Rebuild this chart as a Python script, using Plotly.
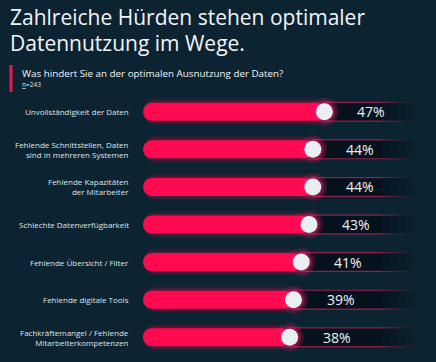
import plotly.graph_objects as go

categories = [
    "Unvollständigkeit der Daten",
    "Fehlende Schnittstellen, Daten<br>sind in mehreren Systemen",
    "Fehlende Kapazitäten<br>der Mitarbeiter",
    "Schlechte Datenverfügbarkeit",
    "Fehlende Übersicht / Filter",
    "Fehlende digitale Tools",
    "Fachkräftemangel / Fehlende<br>Mitarbeiterkompetenzen",
]
values = [47, 44, 44, 43, 41, 39, 38]
value_labels = ["47%", "44%", "44%", "43%", "41%", "39%", "38%"]
fade_stops = [62, 64, 66, 68, 70]

W, H = 436, 362
L, R, T, B = 143, 0, 93, 6
PW, PH = W - L - R, H - T - B
BG = "#0c2332"
PINK = "#ff0a50"
FONT = "Open Sans"


def px_x(px):
    return (px - L) / PW


def px_y(py):
    return 1 - (py - T) / PH


ys = list(range(len(categories)))
fig = go.Figure()

# glow behind pink bars
for w, a in [(0.72, 0.10), (0.6, 0.18)]:
    fig.add_trace(go.Bar(x=values, y=ys, base=0, orientation="h", width=w,
                         marker=dict(color=f"rgba(255,10,80,{a})", cornerradius="50%", line=dict(width=0))))

# dark tracks with fading tail
seg_edges = [[v] + fade_stops for v in values]
n_seg = len(fade_stops)
alphas = [0.75, 0.6, 0.45, 0.3, 0.15]
for s in range(n_seg):
    b = [e[s] for e in seg_edges]
    x = [e[s + 1] - e[s] for e in seg_edges]
    fig.add_trace(go.Bar(x=x, y=ys, base=b, orientation="h", width=0.5,
                         marker=dict(color=f"rgba(3,14,24,{alphas[s]})", line=dict(width=0))))

# pink bars
fig.add_trace(go.Bar(x=values, y=ys, base=0, orientation="h", width=0.48,
                     marker=dict(color=PINK, cornerradius="50%", line=dict(width=0))))

# track border lines
line_alphas = [0.55, 0.42, 0.3, 0.18, 0.07]
for i, v in enumerate(values):
    edges = seg_edges[i]
    for s in range(n_seg):
        for off in (-0.25, 0.25):
            fig.add_trace(go.Scatter(x=[edges[s], edges[s + 1]], y=[i + off, i + off], mode="lines",
                                     line=dict(color=f"rgba(255,40,100,{line_alphas[s]})", width=1.2)))

# circle glow + circle
fig.add_trace(go.Scatter(x=values, y=ys, mode="markers",
                         marker=dict(size=28, color="rgba(255,20,90,0.22)", line=dict(width=0))))
fig.add_trace(go.Scatter(x=values, y=ys, mode="markers",
                         marker=dict(size=22, color="rgba(255,30,100,0.35)", line=dict(width=0))))
fig.add_trace(go.Scatter(x=values, y=ys, mode="markers",
                         marker=dict(size=17, color="#e9eff3", line=dict(width=0))))

annotations = []
for i, (c, v, lab) in enumerate(zip(categories, values, value_labels)):
    annotations.append(dict(x=0, y=i, xref="x", yref="y", text=c, showarrow=False,
                            xanchor="right", yanchor="middle", align="right", xshift=-12,
                            font=dict(family=FONT, size=8, color="#dde5ea")))
    annotations.append(dict(x=v, y=i, xref="x", yref="y", text=lab, showarrow=False,
                            xanchor="center", yanchor="middle", xshift=47,
                            font=dict(family=FONT, size=14, color="#eef3f6")))

annotations += [
    dict(x=px_x(8), y=px_y(17), xref="paper", yref="paper", text="Zahlreiche Hürden stehen optimaler",
         showarrow=False, xanchor="left", yanchor="middle", font=dict(family=FONT, size=21, color="#f2f5f7")),
    dict(x=px_x(8), y=px_y(43), xref="paper", yref="paper", text="Datennutzung im Wege.",
         showarrow=False, xanchor="left", yanchor="middle", font=dict(family=FONT, size=21, color="#f2f5f7")),
    dict(x=px_x(20), y=px_y(73), xref="paper", yref="paper",
         text="Was hindert Sie an der optimalen Ausnutzung der Daten?",
         showarrow=False, xanchor="left", yanchor="middle", font=dict(family=FONT, size=9.8, color="#f2f5f7")),
    dict(x=px_x(20), y=px_y(85), xref="paper", yref="paper", text="<u>n</u>=243",
         showarrow=False, xanchor="left", yanchor="middle", font=dict(family=FONT, size=6.5, color="#dde5ea")),
]

shapes = [dict(type="line", xref="paper", yref="paper", x0=px_x(11), x1=px_x(11), y0=px_y(65), y1=px_y(92),
               line=dict(color="#e8194f", width=3))]

fig.update_layout(
    width=W, height=H, margin=dict(l=L, r=R, t=T, b=B),
    paper_bgcolor=BG, plot_bgcolor=BG,
    barmode="overlay", showlegend=False, hovermode=False,
    xaxis=dict(range=[0, PW / 3.86], visible=False, fixedrange=True),
    yaxis=dict(range=[len(categories) - 0.5, -0.5], visible=False, fixedrange=True),
    annotations=annotations, shapes=shapes,
)

fig.write_html("out.html", config={"displayModeBar": False},
               post_script="document.body.style.margin='0';document.body.style.background='" + BG + "';")
